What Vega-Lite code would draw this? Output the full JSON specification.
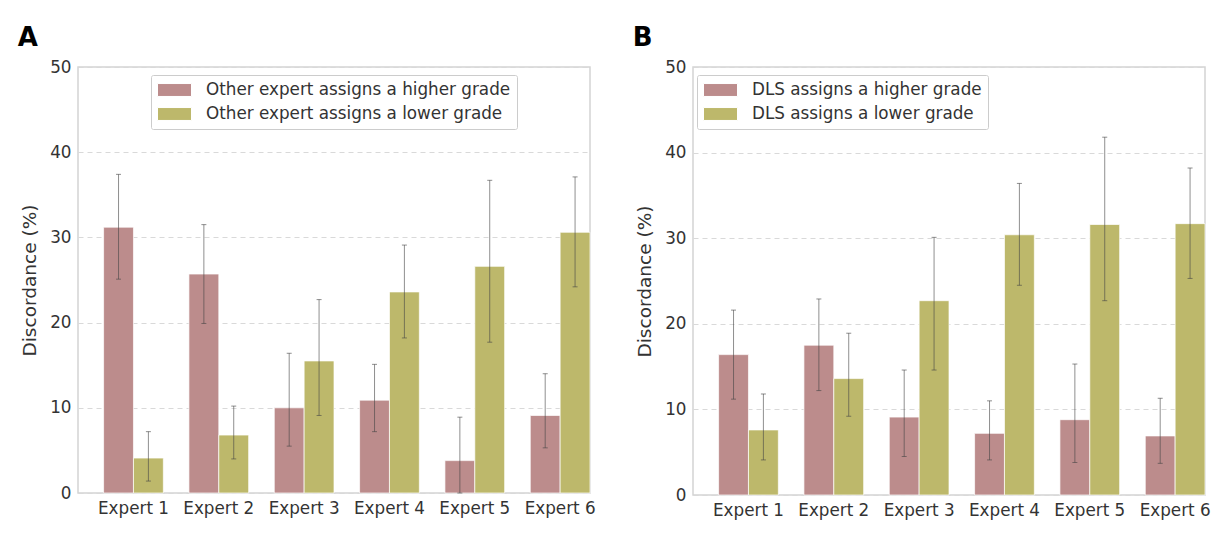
{
  "$schema": "https://vega.github.io/schema/vega-lite/v6.json",
  "padding": {"left": 16, "top": 24, "right": 5, "bottom": 5},
  "background": "white",
  "config": {
    "font": "DejaVu Sans",
    "view": {"stroke": "#d4d4d4", "strokeWidth": 1.5},
    "axis": {"labelFont": "DejaVu Sans", "titleFont": "DejaVu Sans", "labelColor": "#333333", "titleColor": "#333333", "labelFontSize": 16.8, "titleFontSize": 18.5, "titleFontWeight": "normal", "ticks": false, "domain": false},
    "legend": {"labelFont": "DejaVu Sans", "labelFontSize": 16.8, "labelColor": "#333333", "labelLimit": 500},
    "title": {"font": "DejaVu Sans", "fontSize": 26, "fontWeight": "bold", "color": "#000000", "anchor": "start", "frame": "bounds"}
  },
  "datasets": {
    "A": [
      {"expert": "Expert 1", "series": "Other expert assigns a higher grade", "value": 31.2, "lo": 25.1, "hi": 37.4},
      {"expert": "Expert 1", "series": "Other expert assigns a lower grade", "value": 4.1, "lo": 1.4, "hi": 7.2},
      {"expert": "Expert 2", "series": "Other expert assigns a higher grade", "value": 25.7, "lo": 19.9, "hi": 31.5},
      {"expert": "Expert 2", "series": "Other expert assigns a lower grade", "value": 6.8, "lo": 4.0, "hi": 10.2},
      {"expert": "Expert 3", "series": "Other expert assigns a higher grade", "value": 10.0, "lo": 5.5, "hi": 16.4},
      {"expert": "Expert 3", "series": "Other expert assigns a lower grade", "value": 15.5, "lo": 9.1, "hi": 22.7},
      {"expert": "Expert 4", "series": "Other expert assigns a higher grade", "value": 10.9, "lo": 7.2, "hi": 15.1},
      {"expert": "Expert 4", "series": "Other expert assigns a lower grade", "value": 23.6, "lo": 18.2, "hi": 29.1},
      {"expert": "Expert 5", "series": "Other expert assigns a higher grade", "value": 3.8, "lo": 0.0, "hi": 8.9},
      {"expert": "Expert 5", "series": "Other expert assigns a lower grade", "value": 26.6, "lo": 17.7, "hi": 36.7},
      {"expert": "Expert 6", "series": "Other expert assigns a higher grade", "value": 9.1, "lo": 5.3, "hi": 14.0},
      {"expert": "Expert 6", "series": "Other expert assigns a lower grade", "value": 30.6, "lo": 24.2, "hi": 37.1}
    ],
    "B": [
      {"expert": "Expert 1", "series": "DLS assigns a higher grade", "value": 16.4, "lo": 11.2, "hi": 21.6},
      {"expert": "Expert 1", "series": "DLS assigns a lower grade", "value": 7.6, "lo": 4.1, "hi": 11.8},
      {"expert": "Expert 2", "series": "DLS assigns a higher grade", "value": 17.5, "lo": 12.2, "hi": 22.9},
      {"expert": "Expert 2", "series": "DLS assigns a lower grade", "value": 13.6, "lo": 9.2, "hi": 18.9},
      {"expert": "Expert 3", "series": "DLS assigns a higher grade", "value": 9.1, "lo": 4.5, "hi": 14.6},
      {"expert": "Expert 3", "series": "DLS assigns a lower grade", "value": 22.7, "lo": 14.6, "hi": 30.1},
      {"expert": "Expert 4", "series": "DLS assigns a higher grade", "value": 7.2, "lo": 4.1, "hi": 11.0},
      {"expert": "Expert 4", "series": "DLS assigns a lower grade", "value": 30.4, "lo": 24.5, "hi": 36.4},
      {"expert": "Expert 5", "series": "DLS assigns a higher grade", "value": 8.8, "lo": 3.8, "hi": 15.3},
      {"expert": "Expert 5", "series": "DLS assigns a lower grade", "value": 31.6, "lo": 22.7, "hi": 41.8},
      {"expert": "Expert 6", "series": "DLS assigns a higher grade", "value": 6.9, "lo": 3.7, "hi": 11.3},
      {"expert": "Expert 6", "series": "DLS assigns a lower grade", "value": 31.7, "lo": 25.3, "hi": 38.2}
    ]
  },
  "hconcat": [
    {
      "title": {"text": "A", "offset": 8, "dx": -3},
      "width": 512,
      "height": 426,
      "data": {"name": "A"},
      "encoding": {
        "x": {"field": "expert", "type": "nominal", "sort": null, "scale": {"paddingInner": 0.3, "paddingOuter": 0.15, "align": 1}, "axis": {"title": null, "labelAngle": 0, "labelPadding": 7, "grid": false}},
        "xOffset": {"field": "series", "type": "nominal", "sort": null, "scale": {"paddingInner": 0, "paddingOuter": 0}}
      },
      "layer": [
        {
          "mark": {"type": "bar", "stroke": "#ffffff", "strokeWidth": 1, "strokeOpacity": 0.7},
          "encoding": {
            "y": {"field": "value", "type": "quantitative", "scale": {"domain": [0, 50], "nice": false}, "axis": {"title": "Discordance (%)", "values": [0, 10, 20, 30, 40, 50], "labelPadding": 7, "titlePadding": 10, "grid": true, "gridColor": "#d9d9d9", "gridDash": [5, 4], "gridWidth": 1}},
            "color": {"field": "series", "type": "nominal", "scale": {"domain": ["Other expert assigns a higher grade", "Other expert assigns a lower grade"], "range": ["#bc8c8c", "#bdb86b"]}, "legend": {"title": null, "orient": "none", "legendX": 73, "legendY": 8, "fillColor": "#ffffff", "strokeColor": "#cccccc", "padding": 6, "cornerRadius": 2, "rowPadding": 6, "symbolType": "M-1,-0.76H3V0.76H-1Z", "symbolSize": 289, "symbolStrokeWidth": 1, "symbolStrokeColor": "#ffffff", "symbolOpacity": 1, "labelOffset": 31}}
          }
        },
        {
          "mark": {"type": "rule", "color": "#444444", "opacity": 0.6, "strokeWidth": 1},
          "encoding": {"y": {"field": "lo", "type": "quantitative"}, "y2": {"field": "hi"}}
        },
        {
          "mark": {"type": "tick", "color": "#444444", "opacity": 0.6, "size": 5, "thickness": 1},
          "encoding": {"y": {"field": "lo", "type": "quantitative"}}
        },
        {
          "mark": {"type": "tick", "color": "#444444", "opacity": 0.6, "size": 5, "thickness": 1},
          "encoding": {"y": {"field": "hi", "type": "quantitative"}}
        }
      ]
    },
    {
      "title": {"text": "B", "offset": 8, "dx": -3},
      "width": 512,
      "height": 428,
      "data": {"name": "B"},
      "encoding": {
        "x": {"field": "expert", "type": "nominal", "sort": null, "scale": {"paddingInner": 0.3, "paddingOuter": 0.15, "align": 1}, "axis": {"title": null, "labelAngle": 0, "labelPadding": 7, "grid": false}},
        "xOffset": {"field": "series", "type": "nominal", "sort": null, "scale": {"paddingInner": 0, "paddingOuter": 0}}
      },
      "layer": [
        {
          "mark": {"type": "bar", "stroke": "#ffffff", "strokeWidth": 1, "strokeOpacity": 0.7},
          "encoding": {
            "y": {"field": "value", "type": "quantitative", "scale": {"domain": [0, 50], "nice": false}, "axis": {"title": "Discordance (%)", "values": [0, 10, 20, 30, 40, 50], "labelPadding": 7, "titlePadding": 10, "grid": true, "gridColor": "#d9d9d9", "gridDash": [5, 4], "gridWidth": 1}},
            "color": {"field": "series", "type": "nominal", "scale": {"domain": ["DLS assigns a higher grade", "DLS assigns a lower grade"], "range": ["#bc8c8c", "#bdb86b"]}, "legend": {"title": null, "orient": "none", "legendX": 4, "legendY": 8, "fillColor": "#ffffff", "strokeColor": "#cccccc", "padding": 6, "cornerRadius": 2, "rowPadding": 6, "symbolType": "M-1,-0.76H3V0.76H-1Z", "symbolSize": 289, "symbolStrokeWidth": 1, "symbolStrokeColor": "#ffffff", "symbolOpacity": 1, "labelOffset": 31}}
          }
        },
        {
          "mark": {"type": "rule", "color": "#444444", "opacity": 0.6, "strokeWidth": 1},
          "encoding": {"y": {"field": "lo", "type": "quantitative"}, "y2": {"field": "hi"}}
        },
        {
          "mark": {"type": "tick", "color": "#444444", "opacity": 0.6, "size": 5, "thickness": 1},
          "encoding": {"y": {"field": "lo", "type": "quantitative"}}
        },
        {
          "mark": {"type": "tick", "color": "#444444", "opacity": 0.6, "size": 5, "thickness": 1},
          "encoding": {"y": {"field": "hi", "type": "quantitative"}}
        }
      ],
      "resolve": {"scale": {"color": "independent"}}
    }
  ],
  "resolve": {"scale": {"color": "independent", "y": "independent", "x": "independent", "xOffset": "independent"}},
  "spacing": 35
}
